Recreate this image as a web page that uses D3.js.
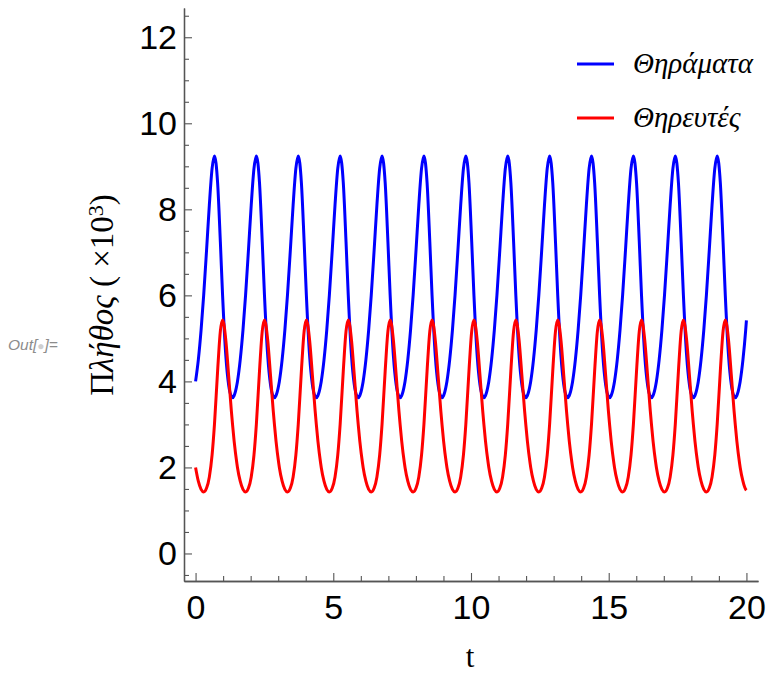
<!DOCTYPE html>
<html>
<head>
<meta charset="utf-8">
<script src="https://cdn.jsdelivr.net/npm/d3@7"></script>
<style>
  body { margin: 0; background: #fff; }
  svg { display: block; }
</style>
</head>
<body>
<svg id="chart"></svg>
<script>
// t samples (one row per cycle, period ~1.521)
const time = [
  0, 0.1, 0.2, 0.294, 0.4, 0.5, 0.6, 0.686, 0.8, 0.9, 0.981, 1.1, 1.2, 1.3, 1.342, 1.4, 1.5,
  1.521, 1.621, 1.721, 1.815, 1.921, 2.021, 2.121, 2.207, 2.321, 2.421, 2.502, 2.621, 2.721, 2.821, 2.863, 2.921, 3.021,
  3.042, 3.142, 3.242, 3.336, 3.442, 3.542, 3.642, 3.728, 3.842, 3.942, 4.023, 4.142, 4.242, 4.342, 4.384, 4.442, 4.542,
  4.563, 4.663, 4.763, 4.857, 4.963, 5.063, 5.163, 5.249, 5.363, 5.463, 5.544, 5.663, 5.763, 5.863, 5.905, 5.963, 6.063,
  6.084, 6.184, 6.284, 6.378, 6.484, 6.584, 6.684, 6.770, 6.884, 6.984, 7.065, 7.184, 7.284, 7.384, 7.426, 7.484, 7.584,
  7.605, 7.705, 7.805, 7.899, 8.005, 8.105, 8.205, 8.291, 8.405, 8.505, 8.586, 8.705, 8.805, 8.905, 8.947, 9.005, 9.105,
  9.126, 9.226, 9.326, 9.420, 9.526, 9.626, 9.726, 9.812, 9.926, 10.026, 10.107, 10.226, 10.326, 10.426, 10.468, 10.526, 10.626,
  10.647, 10.747, 10.847, 10.941, 11.047, 11.147, 11.247, 11.333, 11.447, 11.547, 11.628, 11.747, 11.847, 11.947, 11.989, 12.047, 12.147,
  12.168, 12.268, 12.368, 12.462, 12.568, 12.668, 12.768, 12.854, 12.968, 13.068, 13.149, 13.268, 13.368, 13.468, 13.510, 13.568, 13.668,
  13.689, 13.789, 13.889, 13.983, 14.089, 14.189, 14.289, 14.375, 14.489, 14.589, 14.670, 14.789, 14.889, 14.989, 15.031, 15.089, 15.189,
  15.210, 15.310, 15.410, 15.504, 15.610, 15.710, 15.810, 15.896, 16.010, 16.110, 16.191, 16.310, 16.410, 16.510, 16.552, 16.610, 16.710,
  16.731, 16.831, 16.931, 17.025, 17.131, 17.231, 17.331, 17.417, 17.531, 17.631, 17.712, 17.831, 17.931, 18.031, 18.073, 18.131, 18.231,
  18.252, 18.352, 18.452, 18.546, 18.652, 18.752, 18.852, 18.938, 19.052, 19.152, 19.233, 19.352, 19.452, 19.552, 19.594, 19.652, 19.752,
  19.773, 19.873, 19.973, 20
]

// prey (x1000)
const prey = [
  4.00, 4.50, 5.19, 6.00, 7.06, 8.10, 8.95, 9.24, 8.62, 7.24, 6.00, 4.58, 3.92, 3.65, 3.62, 3.67, 3.92,
  4.00, 4.50, 5.19, 6.00, 7.06, 8.10, 8.95, 9.24, 8.62, 7.24, 6.00, 4.58, 3.92, 3.65, 3.62, 3.67, 3.92,
  4.00, 4.50, 5.19, 6.00, 7.06, 8.10, 8.95, 9.24, 8.62, 7.24, 6.00, 4.58, 3.92, 3.65, 3.62, 3.67, 3.92,
  4.00, 4.50, 5.19, 6.00, 7.06, 8.10, 8.95, 9.24, 8.62, 7.24, 6.00, 4.58, 3.92, 3.65, 3.62, 3.67, 3.92,
  4.00, 4.50, 5.19, 6.00, 7.06, 8.10, 8.95, 9.24, 8.62, 7.24, 6.00, 4.58, 3.92, 3.65, 3.62, 3.67, 3.92,
  4.00, 4.50, 5.19, 6.00, 7.06, 8.10, 8.95, 9.24, 8.62, 7.24, 6.00, 4.58, 3.92, 3.65, 3.62, 3.67, 3.92,
  4.00, 4.50, 5.19, 6.00, 7.06, 8.10, 8.95, 9.24, 8.62, 7.24, 6.00, 4.58, 3.92, 3.65, 3.62, 3.67, 3.92,
  4.00, 4.50, 5.19, 6.00, 7.06, 8.10, 8.95, 9.24, 8.62, 7.24, 6.00, 4.58, 3.92, 3.65, 3.62, 3.67, 3.92,
  4.00, 4.50, 5.19, 6.00, 7.06, 8.10, 8.95, 9.24, 8.62, 7.24, 6.00, 4.58, 3.92, 3.65, 3.62, 3.67, 3.92,
  4.00, 4.50, 5.19, 6.00, 7.06, 8.10, 8.95, 9.24, 8.62, 7.24, 6.00, 4.58, 3.92, 3.65, 3.62, 3.67, 3.92,
  4.00, 4.50, 5.19, 6.00, 7.06, 8.10, 8.95, 9.24, 8.62, 7.24, 6.00, 4.58, 3.92, 3.65, 3.62, 3.67, 3.92,
  4.00, 4.50, 5.19, 6.00, 7.06, 8.10, 8.95, 9.24, 8.62, 7.24, 6.00, 4.58, 3.92, 3.65, 3.62, 3.67, 3.92,
  4.00, 4.50, 5.19, 6.00, 7.06, 8.10, 8.95, 9.24, 8.62, 7.24, 6.00, 4.58, 3.92, 3.65, 3.62, 3.67, 3.92,
  4.00, 4.50, 5.19, 5.42
]

// predators (x1000)
const predators = [
  2.00, 1.68, 1.49, 1.43, 1.52, 1.78, 2.29, 3.00, 4.24, 5.17, 5.43, 4.95, 4.14, 3.31, 3.00, 2.61, 2.09,
  2.00, 1.68, 1.49, 1.43, 1.52, 1.78, 2.29, 3.00, 4.24, 5.17, 5.43, 4.95, 4.14, 3.31, 3.00, 2.61, 2.09,
  2.00, 1.68, 1.49, 1.43, 1.52, 1.78, 2.29, 3.00, 4.24, 5.17, 5.43, 4.95, 4.14, 3.31, 3.00, 2.61, 2.09,
  2.00, 1.68, 1.49, 1.43, 1.52, 1.78, 2.29, 3.00, 4.24, 5.17, 5.43, 4.95, 4.14, 3.31, 3.00, 2.61, 2.09,
  2.00, 1.68, 1.49, 1.43, 1.52, 1.78, 2.29, 3.00, 4.24, 5.17, 5.43, 4.95, 4.14, 3.31, 3.00, 2.61, 2.09,
  2.00, 1.68, 1.49, 1.43, 1.52, 1.78, 2.29, 3.00, 4.24, 5.17, 5.43, 4.95, 4.14, 3.31, 3.00, 2.61, 2.09,
  2.00, 1.68, 1.49, 1.43, 1.52, 1.78, 2.29, 3.00, 4.24, 5.17, 5.43, 4.95, 4.14, 3.31, 3.00, 2.61, 2.09,
  2.00, 1.68, 1.49, 1.43, 1.52, 1.78, 2.29, 3.00, 4.24, 5.17, 5.43, 4.95, 4.14, 3.31, 3.00, 2.61, 2.09,
  2.00, 1.68, 1.49, 1.43, 1.52, 1.78, 2.29, 3.00, 4.24, 5.17, 5.43, 4.95, 4.14, 3.31, 3.00, 2.61, 2.09,
  2.00, 1.68, 1.49, 1.43, 1.52, 1.78, 2.29, 3.00, 4.24, 5.17, 5.43, 4.95, 4.14, 3.31, 3.00, 2.61, 2.09,
  2.00, 1.68, 1.49, 1.43, 1.52, 1.78, 2.29, 3.00, 4.24, 5.17, 5.43, 4.95, 4.14, 3.31, 3.00, 2.61, 2.09,
  2.00, 1.68, 1.49, 1.43, 1.52, 1.78, 2.29, 3.00, 4.24, 5.17, 5.43, 4.95, 4.14, 3.31, 3.00, 2.61, 2.09,
  2.00, 1.68, 1.49, 1.43, 1.52, 1.78, 2.29, 3.00, 4.24, 5.17, 5.43, 4.95, 4.14, 3.31, 3.00, 2.61, 2.09,
  2.00, 1.68, 1.49, 1.47
]

const seriesNames = ['Θηράματα', 'Θηρευτές']
const xTicks = [0, 5, 10, 15, 20]
const xMinorTicks = [1, 2, 3, 4, 6, 7, 8, 9, 11, 12, 13, 14, 16, 17, 18, 19]
const yTicks = [0, 2, 4, 6, 8, 10, 12]
const yMinorTicks = [-0.5, 0.5, 1, 1.5, 2.5, 3, 3.5, 4.5, 5, 5.5, 6.5, 7, 7.5, 8.5, 9, 9.5, 10.5, 11, 11.5, 12.5]

const config = {
    width: 768,
    height: 675,
    colors: ['#0000ff', '#ff0000'],
    axisColor: '#555',
    tickFont: '"Liberation Sans", Arial, sans-serif',
    tickSize: 34,
    serif: '"Liberation Serif", "Times New Roman", serif',
}

const svg = d3.select('#chart')
    .attr('width', config.width)
    .attr('height', config.height)

svg.append('rect').attr('width', config.width).attr('height', config.height).attr('fill', '#fff')

const x = d3.scaleLinear().domain([-0.42, 20.42]).range([184, 758])
const y = d3.scaleLinear().domain([-0.64, 12.68]).range([581, 8])

const xAxisY = y.range()[0]
const yAxisX = x.range()[0]

function styleAxis(g) {
    g.select('.domain').attr('stroke', config.axisColor).attr('stroke-width', 1.3)
    g.selectAll('.tick line').attr('stroke', config.axisColor).attr('stroke-width', 1.1)
    g.selectAll('.tick text')
        .attr('fill', '#000')
        .style('font-family', config.tickFont)
        .style('font-size', config.tickSize + 'px')
}

// minor ticks first, then major ticks with labels
svg.append('g')
    .attr('transform', `translate(0,${xAxisY})`)
    .call(d3.axisBottom(x).tickValues(xMinorTicks).tickSize(-5).tickSizeOuter(0).tickFormat(''))
    .call(styleAxis)
svg.append('g')
    .attr('transform', `translate(0,${xAxisY})`)
    .call(d3.axisBottom(x).tickValues(xTicks).tickSize(-8).tickSizeOuter(0).tickPadding(14))
    .call(styleAxis)

svg.append('g')
    .attr('transform', `translate(${yAxisX},0)`)
    .call(d3.axisLeft(y).tickValues(yMinorTicks).tickSize(-5).tickSizeOuter(0).tickFormat(''))
    .call(styleAxis)
svg.append('g')
    .attr('transform', `translate(${yAxisX},0)`)
    .call(d3.axisLeft(y).tickValues(yTicks).tickSize(-8).tickSizeOuter(0).tickPadding(7))
    .call(styleAxis)

// curves
const line = d3.line()
    .x((d, i) => x(time[i]))
    .y(d => y(d))
    .curve(d3.curveMonotoneX)

;[prey, predators].forEach((values, i) => {
    svg.append('path')
        .datum(values)
        .attr('fill', 'none')
        .attr('stroke', config.colors[i])
        .attr('stroke-width', 3)
        .attr('stroke-linejoin', 'round')
        .attr('d', line)
})

// legend
const legendRows = [64, 118]
seriesNames.forEach((name, i) => {
    svg.append('line')
        .attr('x1', 577).attr('x2', 614)
        .attr('y1', legendRows[i]).attr('y2', legendRows[i])
        .attr('stroke', config.colors[i])
        .attr('stroke-width', 3)
    svg.append('text')
        .attr('x', 633)
        .attr('y', legendRows[i] + 9)
        .style('font-family', config.serif)
        .style('font-style', 'italic')
        .style('font-size', '29px')
        .text(name)
})

// axis labels
svg.append('text')
    .attr('x', 470)
    .attr('y', 667)
    .attr('text-anchor', 'middle')
    .style('font-family', config.serif)
    .style('font-size', '31px')
    .text('t')

const yLabel = svg.append('text')
    .attr('transform', 'translate(113,295) rotate(-90)')
    .attr('text-anchor', 'middle')
    .style('font-family', config.serif)
    .style('font-size', '33px')
yLabel.append('tspan').text('Π')
yLabel.append('tspan').style('font-style', 'italic').text('λήθος')
yLabel.append('tspan').text(' ( ×10')
yLabel.append('tspan').attr('dy', '-0.45em').style('font-size', '22px').text('3')
yLabel.append('tspan').attr('dy', '0.3em').text(')')

// notebook output label
const outLabel = svg.append('text')
    .attr('x', 8)
    .attr('y', 350)
    .style('font-family', config.tickFont)
    .style('font-style', 'italic')
    .style('font-size', '15.5px')
    .attr('fill', '#8c8c8c')
outLabel.append('tspan').text('Out[')
outLabel.append('tspan').attr('fill', '#cfcfcf').style('font-size', '12px').text('●')
outLabel.append('tspan').text(']=')
</script>
</body>
</html>
